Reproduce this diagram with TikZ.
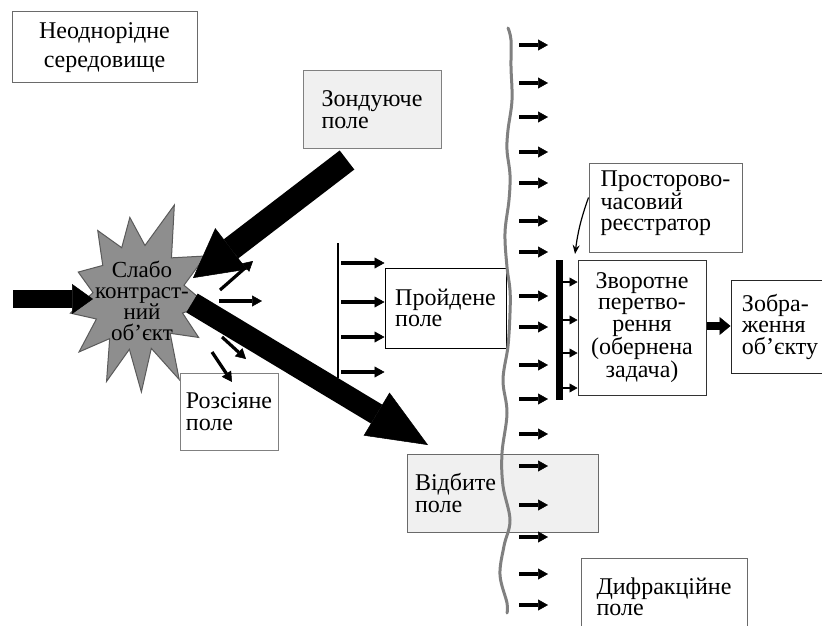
\documentclass[tikz,border=0pt]{standalone}
\usepackage{fontspec}
\setmainfont{Liberation Serif}
\usetikzlibrary{arrows.meta,calc}
\definecolor{boxgray}{HTML}{F0F0F0}
\definecolor{stargray}{HTML}{8E8E8E}
\definecolor{starline}{HTML}{5A5A5A}
\definecolor{wavegray}{HTML}{808080}
\definecolor{bord}{HTML}{6A6A6A}
\begin{document}
\begin{tikzpicture}[x=1pt,y=-1pt,
  tx/.style={font=\fontsize{24}{21.5}\selectfont},
  box/.style={draw=bord, line width=1pt, fill=white, align=left, inner sep=0pt, tx},
  gbox/.style={box, fill=boxgray},
  sarr/.style={line width=3.2pt, -{Triangle[length=10pt,width=11pt,line width=0.5pt]}},
  rarr/.style={line width=2.5pt, -{Triangle[length=8pt,width=9pt,line width=0.5pt]}}]
\useasboundingbox (0,0) rectangle (822,626);
\clip (0,0) rectangle (822,626);
\fill[white] (0,0) rectangle (822,626);

% boxes
\node[box, align=center, font=\fontsize{24}{29}\selectfont, minimum width=185pt, minimum height=71pt] (neo) at (104.5,47.5) {Неоднорідне\\середовище};
\node[gbox, draw=gray, minimum width=138pt, minimum height=77pt] (zond) at (372,109.5) {Зондуюче\\поле};
\node[box, draw=black, minimum width=121pt, minimum height=80pt] (proj) at (445.5,308) {Пройдене\\поле};
\node[box, draw=gray, minimum width=98pt, minimum height=77pt] (ros) at (229,411.5) {Розсіяне\\поле};
\node[gbox, text width=175pt, inner xsep=8pt, minimum height=78pt] (vid) at (502.5,493) {Відбите\\поле};
\node[box, minimum width=153pt, minimum height=89pt] (reg) at (665.5,207.5) {Просторово-\\часовий\\реєстратор\\[-8pt]\mbox{}};
\node[box, draw=black!80, align=center, minimum width=128pt, minimum height=135pt] (zvor) at (642,327.5) {Зворотне\\перетво-\\рення\\(обернена\\задача)};
\node[box, draw=black!85, minimum width=98pt, minimum height=93pt] (zobr) at (780,326.5) {Зобра-\\ження\\об’єкту};
\node[box, minimum width=166pt, minimum height=78pt] (dif) at (664,597) {Дифракційне\\поле};

% star object
\coordinate (c) at (138,295);
\draw[fill=stargray, draw=starline, line width=1pt, line join=miter]
  ($(c)+(122:76pt)$) -- ($(c)+(109:50pt)$) -- ($(c)+(96:78pt)$) -- ($(c)+(82:50pt)$) --
  ($(c)+(68:97pt)$) -- ($(c)+(48:50pt)$) -- ($(c)+(30:78pt)$) -- ($(c)+(12:47pt)$) --
  ($(c)+(-8:70pt)$) -- ($(c)+(-22:48pt)$) -- ($(c)+(-35:74pt)$) -- ($(c)+(-50:50pt)$) --
  ($(c)+(-64:94pt)$) -- ($(c)+(-76:55pt)$) -- ($(c)+(-88:97pt)$) -- ($(c)+(-99:55pt)$) --
  ($(c)+(-110:92pt)$) -- ($(c)+(-123:52pt)$) -- ($(c)+(-136:82pt)$) -- ($(c)+(-150:48pt)$) --
  ($(c)+(-165:70pt)$) -- ($(c)+(177:45pt)$) -- ($(c)+(159:64pt)$) -- ($(c)+(140:46pt)$) -- cycle;
\node[align=center, font=\fontsize{23}{20.5}\selectfont, inner sep=0pt] (obj) at (142,301) {Слабо\\контраст-\\ний\\об’єкт};

% big arrows
\coordinate (inS) at (13,299);
\coordinate (inT) at (93,299);
\draw[line width=18pt, -{Triangle[length=21pt,width=30pt,line width=0.5pt]}] (inS) -- (inT);
\coordinate (zs) at (347,160);
\coordinate (zt) at (193,278);
\draw[line width=24pt, -{Triangle[length=48pt,width=52pt,line width=0.5pt]}] (zs) -- (zt);
\coordinate (rs) at (192,303);
\coordinate (rt) at (428,445);
\draw[line width=22pt, -{Triangle[length=60pt,width=50pt,line width=0.5pt]}] (rs) -- (rt);

% scattered field arrows
\draw[sarr] (220,290) -- (253,261);
\draw[sarr] (219,301) -- (262,301);
\draw[sarr] (222,337) -- (246,359);
\draw[sarr] (212,352) -- (232,382);

% transmitted field
\draw[line width=2.5pt] (338,243) -- (338,378);
\foreach \y in {263,302,337,372} \draw[sarr] (341,\y) -- (proj.west |- 0,\y);

% wavy boundary
\draw[wavegray, line width=3pt, line cap=round] plot[smooth, tension=0.6] coordinates {
 (508,28) (511,40) (511,67) (512,100) (508,130) (507,150) (510,175) (509,200) (505,233)
 (507,267) (510,290) (510,313) (508,346) (503,380) (507,413) (502,453) (503,486) (510,520)
 (504,546) (500,575) (507,603) (507,613)};
\foreach \y in {45,83,117,152,183,221,252,296,327,365,399,434,466,505,537,574,605}
  \draw[sarr] (519,\y) -- (548,\y);

% recorder bar
\draw[line width=7pt] (559,260) -- (559,400);
\foreach \y in {282,320,353,388} \draw[rarr] (560,\y) -- (zvor.west |- 0,\y);
\coordinate (rp) at (575,254);
\draw[line width=1.2pt, -{Stealth[length=9pt,width=7pt]}] ([yshift=10pt]reg.west) to[bend right=6] (rp);

% output arrow
\draw[line width=8pt, -{Triangle[length=11pt,width=18pt,line width=0.5pt]}] (zvor.east |- 0,326) -- (zobr.west |- 0,326);
\end{tikzpicture}
\end{document}
